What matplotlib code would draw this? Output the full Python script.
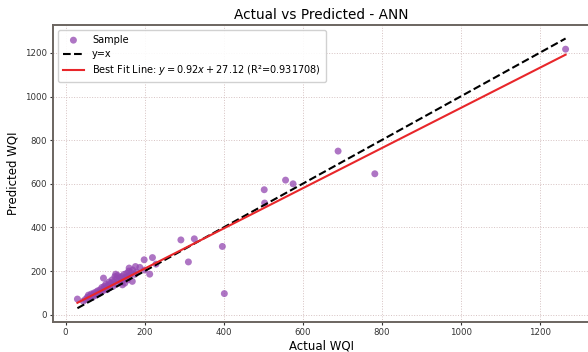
import numpy as np
import matplotlib
matplotlib.use("Agg")
import matplotlib.pyplot as plt

# values
actual = [30, 45, 50, 55, 58, 60, 62, 65, 68, 70, 72, 75, 78, 80, 82, 85, 88, 90,
          92, 95, 96, 98, 100, 102, 105, 108, 110, 112, 115, 118, 120, 122, 125,
          127, 128, 130, 132, 135, 138, 140, 142, 144, 145, 148, 150, 152, 155,
          157, 158, 160, 161, 163, 165, 169, 170, 175, 177, 180, 188, 199, 200,
          213, 220, 229, 292, 311, 326, 397, 402, 503, 504, 557, 576, 690, 783,
          1266]
predicted = [72, 62, 70, 80, 90, 75, 85, 95, 80, 92, 100, 88, 105, 95, 110, 98,
             115, 105, 125, 110, 168, 130, 120, 140, 115, 135, 150, 125, 145, 160,
             130, 150, 175, 186, 140, 165, 180, 155, 170, 150, 175, 137, 160, 185,
             145, 170, 190, 160, 175, 200, 214, 180, 195, 153, 205, 185, 221, 195,
             217, 252, 205, 186, 262, 232, 343, 242, 348, 313, 97, 573, 512, 617,
             600, 750, 646, 1217]
slope = 0.92
intercept = 27.12
r2 = 0.931708

actual = np.array(actual)
predicted = np.array(predicted)

fig = plt.figure(figsize=(5.88, 3.52), dpi=100)
ax = fig.add_axes([53 / 588, 30.3 / 352, 537 / 588, 296.7 / 352])

ax.scatter(actual, predicted, s=25, color='#9347b0', alpha=0.75,
           edgecolors='none', label='Sample', zorder=3)
lo, hi = actual.min(), actual.max()
ax.plot([lo, hi], [lo, hi], 'k--', lw=1.5, label='y=x', zorder=4)
xs = np.array([lo, hi])
ax.plot(xs, slope * xs + intercept, color='#e8262a', lw=1.5,
        label=f'Best Fit Line: $y = {slope:.2f}x + {intercept:.2f}$ (R²={r2:.6f})',
        zorder=4)

ax.set_title('Actual vs Predicted - ANN', fontsize=9.8, pad=4)
ax.set_xlabel('Actual WQI', fontsize=8.5, labelpad=2)
ax.set_ylabel('Predicted WQI', fontsize=8.5, labelpad=4)
ax.tick_params(labelsize=6.2, length=2.5, width=0.8, colors='#333333', pad=2)
ax.grid(True, ls=':', lw=0.7, color='#d6c2c2')
for sp in ax.spines.values():
    sp.set_color('#6b6560')
    sp.set_linewidth(1.4)
# the reference is cut off on the right, so its right spine never shows
ax.spines['right'].set_visible(False)

ax.legend(loc='upper left', fontsize=7, framealpha=0.9, edgecolor='#cccccc',
          handlelength=2.2, borderpad=0.5, labelspacing=0.45)

fig.savefig('out.png', dpi=100)
